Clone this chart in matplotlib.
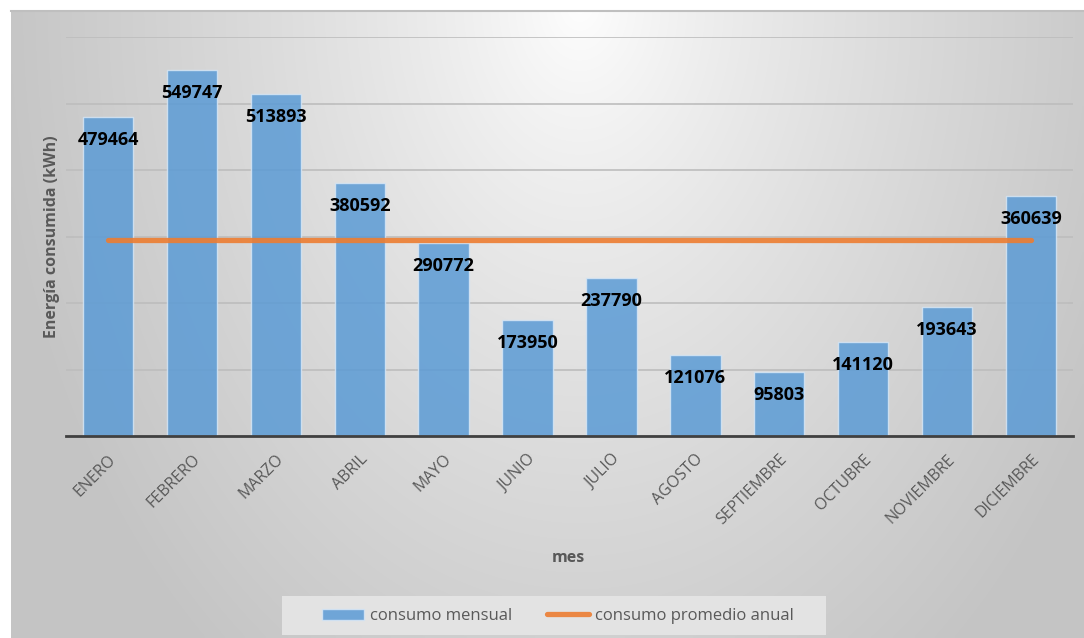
import numpy as np
import matplotlib.pyplot as plt
from matplotlib.patches import Rectangle

plt.rcParams['font.family'] = ['Open Sans', 'DejaVu Sans']

meses = ['ENERO', 'FEBRERO', 'MARZO', 'ABRIL', 'MAYO', 'JUNIO', 'JULIO',
         'AGOSTO', 'SEPTIEMBRE', 'OCTUBRE', 'NOVIEMBRE', 'DICIEMBRE']
consumo = [479464, 549747, 513893, 380592, 290772, 173950, 237790,
           121076, 95803, 141120, 193643, 360639]
promedio = np.mean(consumo)

W, H = 1084, 638
fig = plt.figure(figsize=(W / 100, H / 100), dpi=100)
fig.patch.set_facecolor('white')

# radial gray gradient panel behind the chart (light near top centre)
bg = fig.add_axes([11 / W, 0, 1 - 11 / W, 1 - 11 / H])
px, py = np.meshgrid(np.linspace(11, W, 300), np.linspace(11, H, 200))
d = np.sqrt(((px - 580) / 560) ** 2 + ((py - 0) / 800) ** 2)
val = np.clip(1.0 - 0.22 * d ** 0.8, 0.77, 1.0)
bg.imshow(np.dstack([val, val, val]), aspect='auto', extent=[0, 1, 0, 1],
          interpolation='bilinear')
bg.set_xticks([])
bg.set_yticks([])
for s in ['left', 'right', 'bottom']:
    bg.spines[s].set_visible(False)
bg.spines['top'].set_color('#BFBFBF')
bg.spines['top'].set_linewidth(1.5)

# legend box, drawn on the background axes so it stays under the legend
bg.add_patch(Rectangle((282 / W, 1 - 635 / H), (826 - 282) / W, 39 / H,
                       transform=fig.transFigure, facecolor='#E3E3E3',
                       edgecolor='none', clip_on=False, zorder=2))

ax = fig.add_axes([66 / W, 1 - 436 / H, 1007 / W, (436 - 37) / H])
ax.set_facecolor('none')
x = np.arange(len(meses))
ax.set_xlim(-0.5, len(meses) - 0.5)
ax.set_ylim(0, 600000)
ax.set_yticks(np.arange(0, 600001, 100000))
ax.yaxis.grid(True, color='#BDBDBD', lw=1.2)
ax.set_axisbelow(True)
ax.tick_params(axis='y', length=0, labelleft=False)
ax.tick_params(axis='x', length=0, pad=11)
for s in ['left', 'right', 'top']:
    ax.spines[s].set_visible(False)
ax.spines['bottom'].set_color('#404040')
ax.spines['bottom'].set_linewidth(2)

bars = ax.bar(x, consumo, width=0.6, color='#5B9BD5', alpha=0.85, edgecolor='#D6E6F5',
              linewidth=1, label='consumo mensual', zorder=2)
linea, = ax.plot([x[0], x[-1]], [promedio, promedio], color='#ED7D31', lw=3.8,
                 solid_capstyle='round', alpha=0.9, label='consumo promedio anual', zorder=3)

for xi, v in zip(x, consumo):
    ax.annotate(str(v), (xi, v), xytext=(0, -16.5), textcoords='offset points',
                ha='center', va='center', fontsize=13, fontweight='bold',
                color='black', zorder=4)

ax.set_xticks(x)
ax.set_xticklabels(meses, rotation=45, ha='right', rotation_mode='anchor',
                   fontsize=11.5, color='#595959')
ax.set_ylabel('Energía consumida (kWh)', fontsize=11.5, fontweight='bold',
              color='#595959')
ax.yaxis.set_label_coords(-0.006, 0.5)
fig.text(568 / W, 1 - 558 / H, 'mes', ha='center', va='center', fontsize=11.5,
         fontweight='bold', color='#595959')

leg = ax.legend([bars, linea], ['consumo mensual', 'consumo promedio anual'],
                loc='center', bbox_to_anchor=(558 / W, 1 - 616 / H),
                bbox_transform=fig.transFigure, ncol=2, frameon=False,
                fontsize=12, handlelength=2.5, handleheight=0.65,
                columnspacing=2.1, handletextpad=0.36, borderpad=0.2)
for t in leg.get_texts():
    t.set_color('#595959')

fig.savefig('out.png', dpi=100)
